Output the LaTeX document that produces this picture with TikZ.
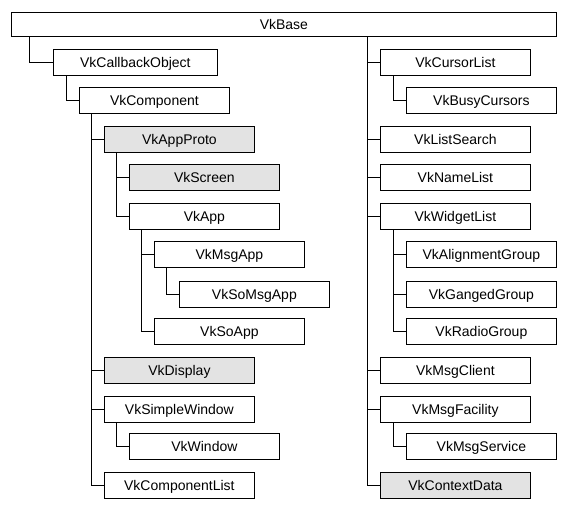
\documentclass[tikz,border=0pt]{standalone}
\usepackage{fontspec}
\setmainfont{Liberation Sans}
\usetikzlibrary{positioning}

\tikzset{
  cls/.style={draw, line width=0.8pt, minimum width=150pt, minimum height=26pt,
    inner sep=0pt, anchor=north west, text height=10pt, text depth=0pt,
    font=\fontsize{14}{16}\selectfont},
  abscls/.style={cls, fill=black!11},
  link/.style={line width=0.8pt}
}
% branch from parent (#2) down and across to child (#3)
\newcommand{\branch}[3][12.5pt]{\draw[link] ([xshift=-#1]#3.west |- #2.south) |- (#3.west);}

\begin{document}
\begin{tikzpicture}[x=1pt, y=-1pt]
        \useasboundingbox (0,0) rectangle (567,509);

        % Root
        \node[cls, minimum width=545pt, minimum height=24pt] (base) at (11,12) {VkBase};

        % Left column
        \node[cls, minimum width=164pt] (callback) at (53,49) {VkCallbackObject};
        \node[cls] (component) at (79,87) {VkComponent};
        \node[abscls] (appproto) at (104,126) {VkAppProto};
        \node[abscls] (screen) at (129,164) {VkScreen};
        \node[cls] (app) at (129,203) {VkApp};
        \node[cls] (msgapp) at (154,241) {VkMsgApp};
        \node[cls] (somsgapp) at (179,281) {VkSoMsgApp};
        \node[cls] (soapp) at (154,318) {VkSoApp};
        \node[abscls] (display) at (104,357) {VkDisplay};
        \node[cls] (simplewin) at (104,396) {VkSimpleWindow};
        \node[cls] (window) at (129,433) {VkWindow};
        \node[cls] (complist) at (104,472) {VkComponentList};

        % Right column
        \node[cls] (cursorlist) at (380,49) {VkCursorList};
        \node[cls] (busycursors) at (406,87) {VkBusyCursors};
        \node[cls] (listsearch) at (380,126) {VkListSearch};
        \node[cls] (namelist) at (380,164) {VkNameList};
        \node[cls] (widgetlist) at (380,203) {VkWidgetList};
        \node[cls] (aligngroup) at (406,241) {VkAlignmentGroup};
        \node[cls] (gangedgroup) at (406,281) {VkGangedGroup};
        \node[cls] (radiogroup) at (406,318) {VkRadioGroup};
        \node[cls] (msgclient) at (380,357) {VkMsgClient};
        \node[cls] (msgfacility) at (380,396) {VkMsgFacility};
        \node[cls] (msgservice) at (406,433) {VkMsgService};
        \node[abscls] (contextdata) at (380,472) {VkContextData};

        % Left tree
        \branch[24pt]{base}{callback}
        \branch{callback}{component}
        \branch{component}{appproto}
        \branch{component}{display}
        \branch{component}{simplewin}
        \branch{component}{complist}
        \branch{appproto}{screen}
        \branch{appproto}{app}
        \branch{app}{msgapp}
        \branch{app}{soapp}
        \branch{msgapp}{somsgapp}
        \branch{simplewin}{window}

        % Right tree
        \branch[13pt]{base}{cursorlist}
        \branch[13pt]{base}{listsearch}
        \branch[13pt]{base}{namelist}
        \branch[13pt]{base}{widgetlist}
        \branch[13pt]{base}{msgclient}
        \branch[13pt]{base}{msgfacility}
        \branch[13pt]{base}{contextdata}
        \branch[13pt]{cursorlist}{busycursors}
        \branch[13pt]{widgetlist}{aligngroup}
        \branch[13pt]{widgetlist}{gangedgroup}
        \branch[13pt]{widgetlist}{radiogroup}
        \branch[13pt]{msgfacility}{msgservice}
\end{tikzpicture}
\end{document}
